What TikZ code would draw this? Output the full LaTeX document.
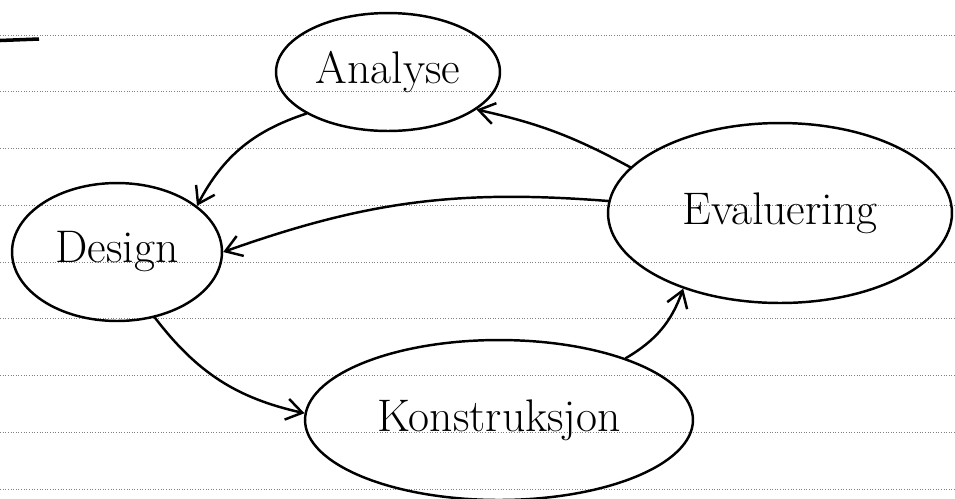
\documentclass[tikz,border=0pt]{standalone}
\usetikzlibrary{shapes.geometric,arrows.meta}

\begin{document}
\begin{tikzpicture}[x=0.02cm,y=-0.02cm,>={Straight Barb[length=9pt,width=12pt]},
    phase/.style={ellipse,draw,line width=1.4pt,inner sep=0pt,
        font=\fontsize{26}{30}\selectfont},
    flow/.style={->,line width=1.4pt,line cap=round}]
    \useasboundingbox (0,0) rectangle (955,498);

    % the lines of the paper
    \foreach \y in {35,91.75,...,490}
        \draw[gray,densely dotted,line width=0.5pt] (0,\y) -- (955,\y);
    \draw[line width=2pt] (0,40.5) -- (39,39);

    % the four phases
    \node[phase,minimum width=4.48cm,minimum height=2.36cm] (analyse) at (388,72) {Analyse};
    \node[phase,minimum width=4.2cm,minimum height=2.76cm] (design) at (117,252) {Design};
    \node[phase,minimum width=6.88cm,minimum height=3.6cm] (evaluering) at (780,213) {Evaluering};
    \node[phase,minimum width=7.76cm,minimum height=3.2cm] (konstruksjon) at (499,420) {Konstruksjon};

    % the arrows between them
    \draw[flow] (analyse.207) to[bend right=22] (design.30);
    \draw[flow] (design.300) to[bend right=20] (konstruksjon.178);
    \draw[flow] (konstruksjon.26) to[bend right=20] (evaluering.218);
    \draw[flow] (evaluering.163) to[bend right=8] (analyse.337);
    \draw[flow] (evaluering.176) to[bend right=12] (design.east);
\end{tikzpicture}
\end{document}
